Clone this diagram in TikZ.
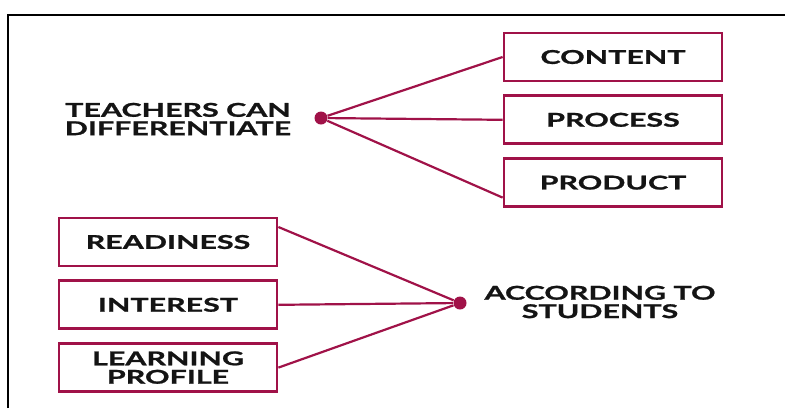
\documentclass[tikz,border=0pt]{standalone}
\usepackage{fontspec}
\newfontfamily\boxfont{Lato}[FakeStretch=1.6, BoldFeatures={FakeBold=1.2}]
\usepackage{tikz}
\usetikzlibrary{positioning, calc}
\definecolor{diffred}{RGB}{160,18,72}
\definecolor{ink}{RGB}{20,20,20}

\begin{document}
\begin{tikzpicture}[
    x=0.5pt, y=-0.5pt,
    node distance=6pt,
    item/.style={rectangle, draw=diffred, line width=1.4pt, minimum width=109pt,
                 minimum height=24pt, inner sep=0pt, align=center, text=ink,
                 font=\boxfont\bfseries\fontsize{9.5}{9.2}\selectfont},
    headtext/.style={align=center, inner sep=0pt, text=ink,
                     font=\boxfont\bfseries\fontsize{9.5}{9.2}\selectfont},
    hub/.style={circle, fill=diffred, minimum size=6.5pt, inner sep=0pt},
    link/.style={diffred, line width=1.1pt}
]
    \useasboundingbox (0,0) rectangle (785,408);
    % frame (open at right and bottom)
    \draw[line width=1pt] (8,408) -- (8,15) -- (785,15);

    % what teachers can differentiate
    \node[headtext] (teach) at (178,119) {TEACHERS CAN\\DIFFERENTIATE};
    \node[hub] (hubA) at (321,118) {};
    \node[item] (content) at (613,57) {CONTENT};
    \node[item, below=of content] (process) {PROCESS};
    \node[item, below=of process] (product) {PRODUCT};

    \draw[link] (hubA) -- (content.west);
    \draw[link] (hubA) -- (process.west);
    \draw[link] (hubA) -- ($(product.west)+(0,15)$);

    % according to students
    \node[item] (ready) at (168,242) {READINESS};
    \node[item, below=of ready] (interest) {INTEREST};
    \node[item, below=of interest] (profile) {LEARNING\\PROFILE};
    \node[hub] (hubB) at (460,303) {};
    \node[headtext] (students) at (600,302) {ACCORDING TO\\STUDENTS};

    \draw[link] ($(ready.east)+(0,-15)$) -- (hubB);
    \draw[link] (interest.east) -- (hubB);
    \draw[link] (profile.east) -- (hubB);
\end{tikzpicture}
\end{document}
